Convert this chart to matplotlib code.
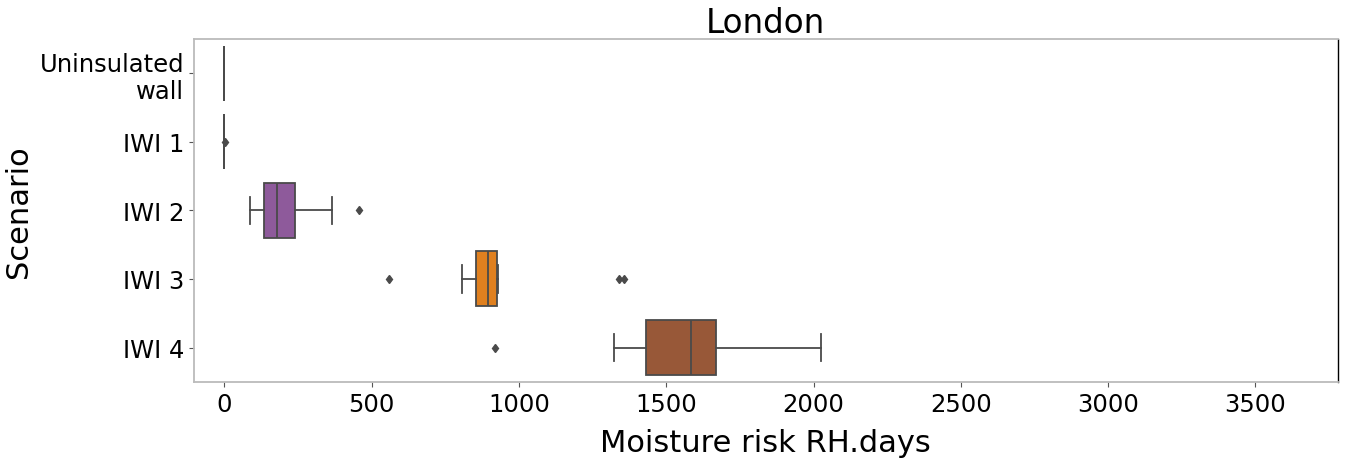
import matplotlib

matplotlib.use("Agg")
import matplotlib.pyplot as plt


# ringkasan box per skenario (RH.days)
scenarios = ["Uninsulated\nwall", "IWI 1", "IWI 2", "IWI 3", "IWI 4"]
whis_lo = [0, 0, 86, 808, 1322]
q1 = [0, 0, 134, 853, 1430]
median = [0, 0, 177, 895, 1583]
q3 = [0, 0, 238, 925, 1668]
whis_hi = [0, 0, 366, 930, 2026]
fliers = [[], [3], [456], [557, 1340, 1357], [917]]

box_colors = ["#3a6fb0", "#3a9a4a", "#8e5a9b", "#e0801f", "#985838"]
line_color = "#4a4a4a"

stats = []
for i, nama in enumerate(scenarios):
    stats.append(
        {
            "label": nama,
            "whislo": whis_lo[i],
            "q1": q1[i],
            "med": median[i],
            "q3": q3[i],
            "whishi": whis_hi[i],
            "fliers": fliers[i],
        }
    )

fig = plt.figure(figsize=(13.46, 4.64), dpi=100)
ax = fig.add_axes([0.144, 0.175, 0.85, 0.739])

bp = ax.bxp(
    stats,
    positions=range(len(scenarios)),
    widths=0.8,
    vert=False,
    patch_artist=True,
    boxprops={"edgecolor": line_color, "linewidth": 1.3},
    medianprops={"color": line_color, "linewidth": 1.3},
    whiskerprops={"color": line_color, "linewidth": 1.3},
    capprops={"color": line_color, "linewidth": 1.3},
    flierprops={
        "marker": "d",
        "markersize": 4.5,
        "markerfacecolor": line_color,
        "markeredgecolor": line_color,
    },
)
for patch, warna in zip(bp["boxes"], box_colors):
    patch.set_facecolor(warna)

ax.set_xlim(-104, 3780)
ax.set_ylim(4.5, -0.5)
ax.set_xticks([0, 500, 1000, 1500, 2000, 2500, 3000, 3500])
ax.set_yticks(range(len(scenarios)), scenarios)
ax.tick_params(axis="both", labelsize=17.5, color="#555555", length=3.5)

for side in ["left", "top", "bottom"]:
    ax.spines[side].set_color("#bbbbbb")
    ax.spines[side].set_linewidth(1.3)
ax.spines["right"].set_color("black")
ax.spines["right"].set_linewidth(1.0)

ax.set_title("London", fontsize=23.5, pad=4)
ax.set_xlabel("Moisture risk RH.days", fontsize=22, labelpad=9)
ax.set_ylabel("Scenario", fontsize=22, labelpad=5)

fig.savefig("out.png", dpi=100)
plt.close(fig)
